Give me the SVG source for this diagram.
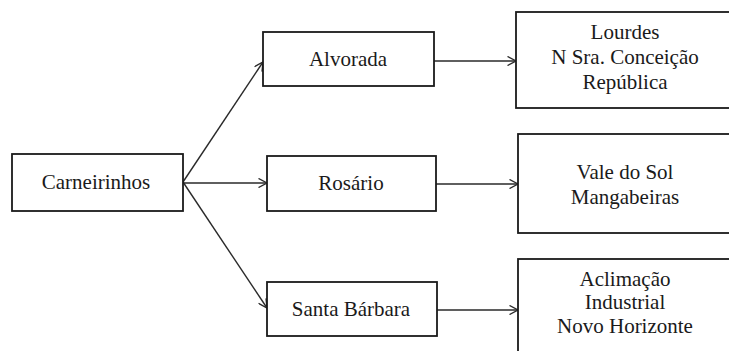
<svg xmlns="http://www.w3.org/2000/svg" width="729" height="351" viewBox="0 0 729 351">
<style>
.box{fill:#fff;stroke:#1a1a1a;stroke-width:1.8}
.t{font-family:'Liberation Serif','DejaVu Serif',serif;font-size:21px;fill:#1a1a1a;text-anchor:middle}
.c{stroke:#2a2a2a;stroke-width:1.4;fill:none;marker-end:url(#ah)}
</style>
<defs>
<marker id="ah" viewBox="0 0 10 10" refX="9.5" refY="5" markerWidth="10" markerHeight="10" markerUnits="userSpaceOnUse" orient="auto">
<path d="M1,0.5 L9.5,5 L1,9.5" fill="none" stroke="#2a2a2a" stroke-width="1.4"/>
</marker>
</defs>
<rect width="729" height="351" fill="#fff"/>
<g id="connectors">
<line class="c" x1="183" y1="182" x2="263" y2="62"/>
<line class="c" x1="183" y1="183" x2="267" y2="183"/>
<line class="c" x1="183" y1="182" x2="267" y2="308"/>
<line class="c" x1="434" y1="61" x2="516" y2="61"/>
<line class="c" x1="436" y1="184" x2="518" y2="184"/>
<line class="c" x1="437" y1="310" x2="518" y2="310"/>
</g>
<g id="carneirinhos">
<rect class="box" x="12" y="154" width="171" height="57"/>
<text class="t" x="96" y="189" font-family="Liberation Serif, serif">Carneirinhos</text>
</g>
<g id="alvorada">
<rect class="box" x="263" y="32" width="171" height="54"/>
<text class="t" x="348" y="66">Alvorada</text>
</g>
<g id="rosario">
<rect class="box" x="267" y="156" width="169" height="55"/>
<text class="t" x="351" y="190">Rosário</text>
</g>
<g id="santa-barbara">
<rect class="box" x="267" y="282" width="170" height="54"/>
<text class="t" x="351" y="316">Santa Bárbara</text>
</g>
<g id="lourdes-group">
<rect class="box" x="516" y="12" width="218" height="96"/>
<text class="t" x="625" y="39">Lourdes</text>
<text class="t" x="625" y="64">N Sra. Conceição</text>
<text class="t" x="625" y="89">República</text>
</g>
<g id="vale-group">
<rect class="box" x="518" y="134" width="216" height="99"/>
<text class="t" x="625" y="179">Vale do Sol</text>
<text class="t" x="625" y="204">Mangabeiras</text>
</g>
<g id="aclimacao-group">
<rect class="box" x="518" y="259" width="216" height="100"/>
<text class="t" x="625" y="286">Aclimação</text>
<text class="t" x="625" y="309">Industrial</text>
<text class="t" x="625" y="333">Novo Horizonte</text>
</g>
</svg>
